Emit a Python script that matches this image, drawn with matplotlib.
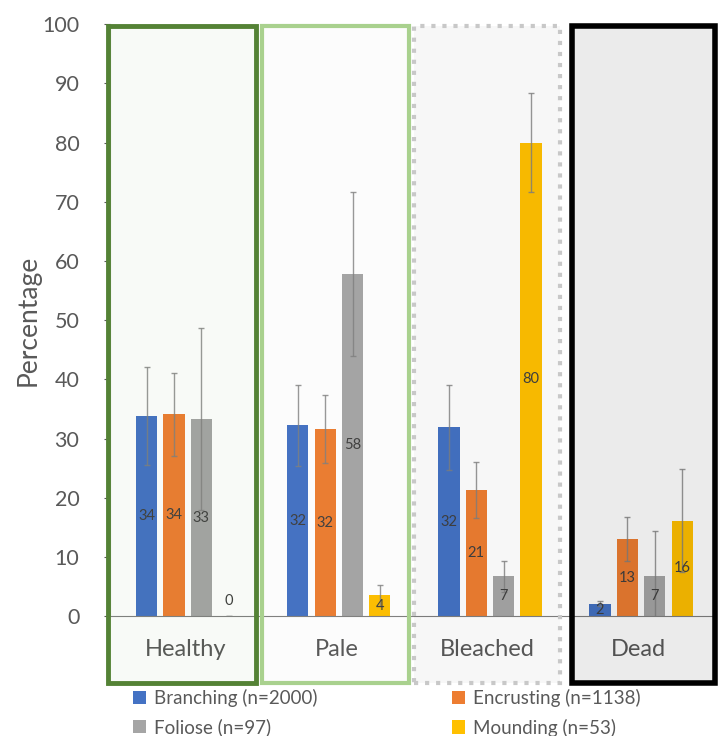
import numpy as np
import matplotlib.pyplot as plt
from matplotlib.patches import Rectangle

plt.rcParams['font.family'] = ['Lato', 'DejaVu Sans']

# --- Datos ---
categorias = ['Healthy', 'Pale', 'Bleached', 'Dead']
formas = ['Branching (n=2000)', 'Encrusting (n=1138)', 'Foliose (n=97)', 'Mounding (n=53)']
branching = [33.8, 32.2, 31.9, 2.1]
encrusting = [34.1, 31.6, 21.3, 13.0]
foliose = [33.3, 57.8, 6.7, 6.7]
mounding = [0.0, 3.5, 80.0, 16.1]
err_branching = [8.2, 6.9, 7.2, 0.4]
err_encrusting = [7.0, 5.7, 4.7, 3.7]
err_foliose = [15.4, 13.9, 2.6, 7.7]
err_mounding = [0.0, 1.8, 8.4, 8.7]
etiquetas = [[34, 32, 32, 2], [34, 32, 21, 13], [33, 58, 7, 7], [0, 4, 80, 16]]

colores = ['#4472C4', '#ED7D31', '#A5A5A5', '#FFC000']
series = [branching, encrusting, foliose, mounding]
errores = [err_branching, err_encrusting, err_foliose, err_mounding]

# --- Figura ---
fig = plt.figure(figsize=(7.18, 7.36), dpi=100)
ax = fig.add_axes([0.153, 0.163, 0.842, 0.804])

x = np.arange(len(categorias))
paso = 0.181
ancho = 0.14
handles = []
for i, (vals, errs, col) in enumerate(zip(series, errores, colores)):
    pos = x + (i - 1.5) * paso + 0.015
    h = ax.bar(pos, vals, ancho, color=col, label=formas[i], zorder=2)
    handles.append(h)
    ax.errorbar(pos, vals, yerr=errs, fmt='none', ecolor='#808080', elinewidth=1,
                capsize=2.5, alpha=0.8, zorder=3)
    for xp, v, lab in zip(pos, vals, etiquetas[i]):
        ypos = v / 2 if v > 1 else 2
        if lab == 0:
            ypos = 2.5
        ax.text(xp, ypos, str(lab), ha='center', va='center', fontsize=10.5,
                color='#404040', zorder=4)

ax.set_xlim(-0.5, 3.5)
ax.set_ylim(0, 100)
ax.set_yticks(np.arange(0, 101, 10))
ax.tick_params(axis='y', labelsize=15.5, colors='#595959', length=4, width=0.8, pad=18)
ax.tick_params(axis='x', length=0)
ax.set_xticks([])
for s in ['top', 'right']:
    ax.spines[s].set_visible(False)
ax.spines['left'].set_color('#A6A6A6')
ax.spines['bottom'].set_color('#808080')
ax.set_ylabel('Percentage', fontsize=19, color='#595959', labelpad=1)
ax.set_facecolor('none')

# --- Cajas de cada categoría ---
y0, y1 = -11.3, 99.7
cajas = [
    (-0.513, 0.467, '#548235', 3.5, '-', (0.33, 0.51, 0.21, 0.04)),
    (0.507, 1.48, '#A9D18E', 3, '-', (0.5, 0.5, 0.45, 0.02)),
    (1.513, 2.48, '#C8C8C8', 3, ':', (0, 0, 0, 0.03)),
    (2.56, 3.505, 'black', 4, '-', (0, 0, 0, 0.08)),
]
for (xa, xb, ec, lw, ls, fc) in cajas:
    r = Rectangle((xa, y0), xb - xa, y1 - y0, transform=ax.transData,
                  facecolor=fc, edgecolor='none', clip_on=False, zorder=5)
    ax.add_patch(r)
    r2 = Rectangle((xa, y0), xb - xa, y1 - y0, transform=ax.transData,
                   facecolor='none', edgecolor=ec, linewidth=lw, linestyle=ls,
                   clip_on=False, zorder=6)
    ax.add_patch(r2)

for xi, cat in zip(x, categorias):
    ax.text(xi, -5.6, cat, ha='center', va='center', fontsize=17, color='#595959')

# orden por filas como en la leyenda original
orden = [0, 2, 1, 3]
ax.legend([handles[k] for k in orden], [formas[k] for k in orden],
          loc='upper left', bbox_to_anchor=(0.02, -0.104), ncol=2, frameon=False,
          fontsize=13.5, labelcolor='#595959', handlelength=0.7, handleheight=0.7,
          columnspacing=7.2, handletextpad=0.4, labelspacing=0.62, borderaxespad=0.2)

fig.savefig('out.png', dpi=100)
